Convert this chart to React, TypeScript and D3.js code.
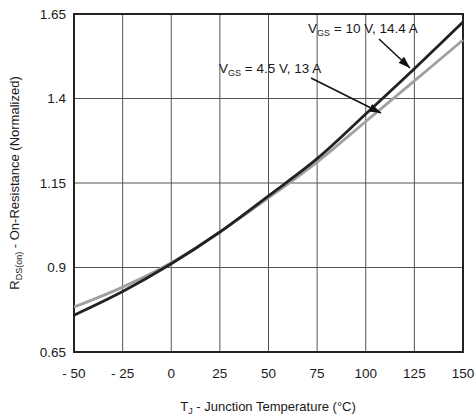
import React from "react";
import * as d3 from "d3";

const temps = [-50, -25, 0, 25, 50, 75, 100, 125, 150];
const vgs10 = [0.759, 0.829, 0.911, 1.005, 1.112, 1.222, 1.354, 1.488, 1.626];
const vgs45 = [0.783, 0.842, 0.914, 1.005, 1.106, 1.212, 1.332, 1.452, 1.573];
const xTicks = [-50, -25, 0, 25, 50, 75, 100, 125, 150];
const yTicks = [0.65, 0.9, 1.15, 1.4, 1.65];

export default function App() {
  const W = 476, H = 416;
  const m = { l: 74, r: 13, t: 14, b: 64 };
  const x = d3.scaleLinear().domain([-50, 150]).range([m.l, W - m.r]);
  const y = d3.scaleLinear().domain([0.65, 1.65]).range([H - m.b, m.t]);
  const line = d3
    .line<number>()
    .x((_, i) => x(temps[i]))
    .y((d) => y(d))
    .curve(d3.curveCatmullRom.alpha(0.5));
  const font = "'Liberation Sans', Arial, sans-serif";
  const tc = "#1a1a1a";
  return (
    <svg width={W} height={H} style={{ position: "absolute", left: 0, top: 0, background: "#fff" }} fontFamily={font}>
      <defs>
        <marker id="ah" viewBox="0 0 10 10" refX="10" refY="5" markerWidth="8" markerHeight="8" orient="auto">
          <path d="M0,1.5 L10,5 L0,8.5 z" fill="#111" />
        </marker>
      </defs>
      {xTicks.map((t) => (
        <line key={"gx" + t} x1={x(t)} x2={x(t)} y1={y(0.65)} y2={y(1.65)} stroke="#555" strokeWidth={1} />
      ))}
      {yTicks.map((t) => (
        <line key={"gy" + t} x1={x(-50)} x2={x(150)} y1={y(t)} y2={y(t)} stroke="#555" strokeWidth={1} />
      ))}
      <rect x={x(-50)} y={y(1.65)} width={x(150) - x(-50)} height={y(0.65) - y(1.65)} fill="none" stroke="#222" strokeWidth={2} />
      <path d={line(vgs45) || ""} fill="none" stroke="#a0a0a0" strokeWidth={2.8} />
      <path d={line(vgs10) || ""} fill="none" stroke="#222" strokeWidth={2.8} />
      {yTicks.map((t) => (
        <text key={"yl" + t} x={66} y={y(t)} dy="0.35em" textAnchor="end" fontSize={13.5} fill={tc}>
          {String(t)}
        </text>
      ))}
      {xTicks.map((t) => (
        <text key={"xl" + t} x={x(t)} y={378} textAnchor="middle" fontSize={13.5} fill={tc}>
          {t < 0 ? "- " + Math.abs(t) : String(t)}
        </text>
      ))}
      <text x={268} y={411} textAnchor="middle" fontSize={13} fill={tc}>
        T<tspan fontSize={9} dy={3}>J</tspan>
        <tspan dy={-3}> - Junction Temperature (°C)</tspan>
      </text>
      <text transform={`translate(19,${y(1.15)}) rotate(-90)`} textAnchor="middle" fontSize={13} fill={tc}>
        R<tspan fontSize={9} dy={3}>DS(on)</tspan>
        <tspan dy={-3}> - On-Resistance (Normalized)</tspan>
      </text>
      <text x={308} y={33} fontSize={13.5} fill={tc}>
        V<tspan fontSize={9} dy={3}>GS</tspan>
        <tspan dy={-3}> = 10 V, 14.4 A</tspan>
      </text>
      <text x={219} y={73} fontSize={13.5} fill={tc}>
        V<tspan fontSize={9} dy={3}>GS</tspan>
        <tspan dy={-3}> = 4.5 V, 13 A</tspan>
      </text>
      <line x1={379} y1={39} x2={410} y2={68} stroke="#111" strokeWidth={1.5} markerEnd="url(#ah)" />
      <line x1={311} y1={78} x2={381} y2={113} stroke="#111" strokeWidth={1.5} markerEnd="url(#ah)" />
    </svg>
  );
}
